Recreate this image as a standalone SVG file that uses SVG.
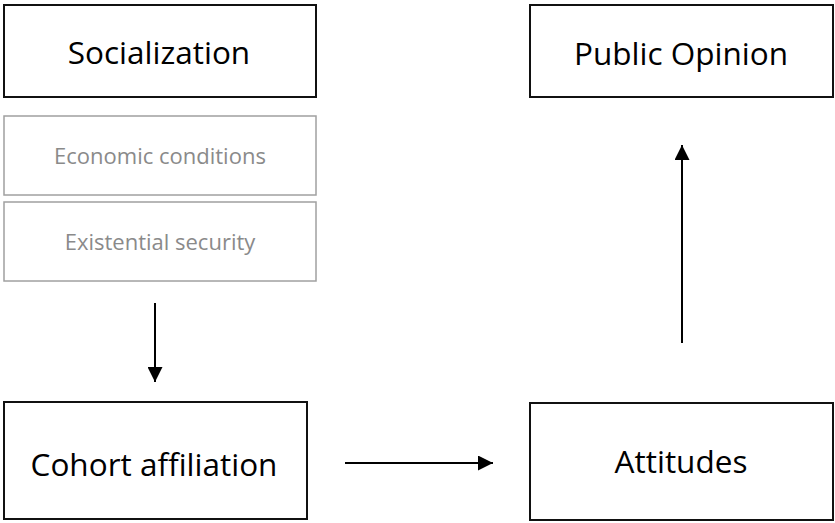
<svg xmlns="http://www.w3.org/2000/svg" width="835" height="523" viewBox="0 0 835 523">
  <style>
    .box { fill: #ffffff; stroke: #111111; stroke-width: 2; }
    .sub { fill: #ffffff; stroke: #a0a0a0; stroke-width: 1.5; }
    .main { font-family: "Open Sans", "Liberation Sans", sans-serif; font-size: 31.5px; fill: #000000; text-anchor: middle; }
    .minor { font-family: "Open Sans", "Liberation Sans", sans-serif; font-size: 22px; fill: #8a8a8a; text-anchor: middle; }
    .link { stroke: #000000; stroke-width: 2; fill: none; marker-end: url(#head); }
  </style>
  <defs>
    <marker id="head" viewBox="0 0 10 10" refX="10" refY="5" markerWidth="7.5" markerHeight="7.5" markerUnits="strokeWidth" orient="auto">
      <path d="M0,0 L10,5 L0,10 Z" fill="#000000"/>
    </marker>
  </defs>
  <rect width="835" height="523" fill="#ffffff"/>

  <g id="socialization">
    <rect class="box" x="4" y="5" width="312" height="92"/>
    <text class="main" x="159" y="64">Socialization</text>
  </g>
  <g id="economic-conditions">
    <rect class="sub" x="4" y="116" width="312" height="79"/>
    <text class="minor" x="160" y="164">Economic conditions</text>
  </g>
  <g id="existential-security">
    <rect class="sub" x="4" y="202" width="312" height="79"/>
    <text class="minor" x="160" y="250">Existential security</text>
  </g>
  <g id="public-opinion">
    <rect class="box" x="530" y="5" width="303" height="92"/>
    <text class="main" x="681" y="65">Public Opinion</text>
  </g>
  <g id="cohort-affiliation">
    <rect class="box" x="4" y="402" width="303" height="117"/>
    <text class="main" x="154" y="476">Cohort affiliation</text>
  </g>
  <g id="attitudes">
    <rect class="box" x="530" y="403" width="303" height="117"/>
    <text class="main" x="681" y="473">Attitudes</text>
  </g>

  <g id="connectors">
    <line class="link" x1="155" y1="303" x2="155" y2="382"/>
    <line class="link" x1="345" y1="463" x2="493" y2="463"/>
    <line class="link" x1="682" y1="343" x2="682" y2="145"/>
  </g>
</svg>
